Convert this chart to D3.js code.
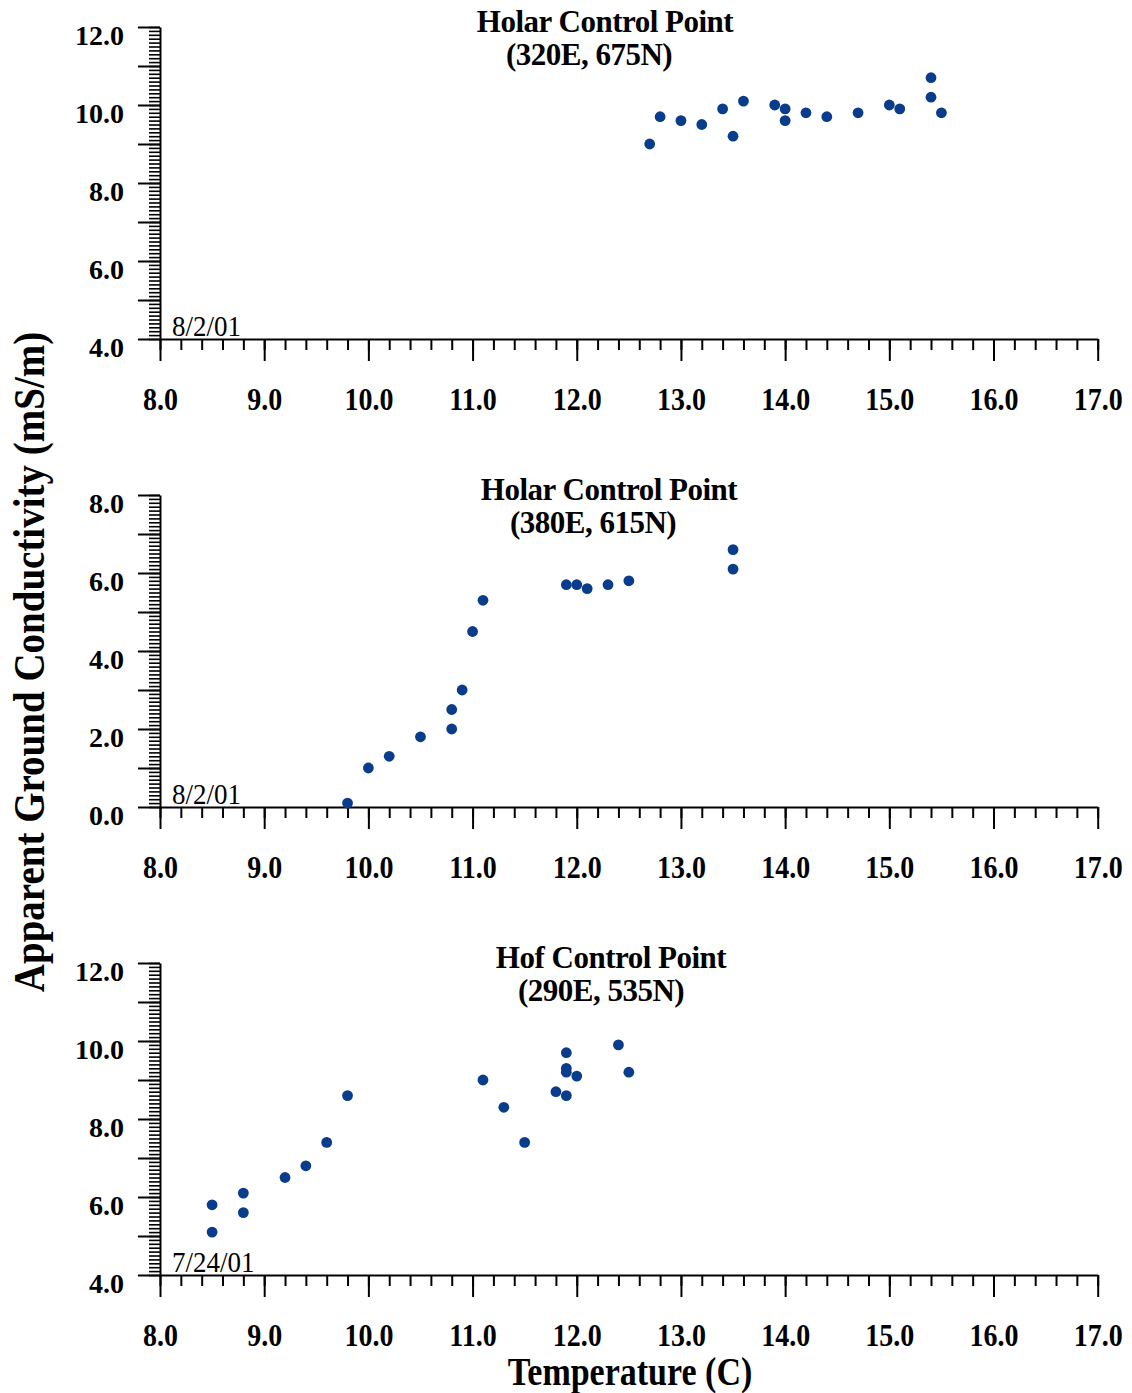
<!DOCTYPE html>
<html>
<head>
<meta charset="utf-8">
<script src="https://cdn.jsdelivr.net/npm/d3@7"></script>
<style>
  body { margin: 0; background: #fff; }
  svg text { font-family: "Liberation Serif", "Times New Roman", serif; fill: #000; }
</style>
</head>
<body>
<script>
// values
const titles = ["Holar Control Point", "Holar Control Point", "Hof Control Point"]
const subtitles = ["(320E, 675N)", "(380E, 615N)", "(290E, 535N)"]
const dates = ["8/2/01", "8/2/01", "7/24/01"]
const yDomains = [[4, 12], [0, 8], [4, 12]]
const xDomain = [8, 17]

const p1Temp = [12.7, 12.8, 13.0, 13.2, 13.4, 13.5, 13.6, 13.9, 14.0, 14.0, 14.2, 14.4, 14.7, 15.0, 15.1, 15.4, 15.4, 15.5]
const p1Cond = [9.0, 9.7, 9.6, 9.5, 9.9, 9.2, 10.1, 10.0, 9.9, 9.6, 9.8, 9.7, 9.8, 10.0, 9.9, 10.7, 10.2, 9.8]

const p2Temp = [9.8, 10.0, 10.2, 10.5, 10.8, 10.8, 10.9, 11.0, 11.1, 11.9, 12.0, 12.1, 12.3, 12.5, 13.5, 13.5]
const p2Cond = [0.1, 1.0, 1.3, 1.8, 2.5, 2.0, 3.0, 4.5, 5.3, 5.7, 5.7, 5.6, 5.7, 5.8, 6.6, 6.1]

const p3Temp = [8.5, 8.5, 8.8, 8.8, 9.2, 9.4, 9.6, 9.8, 11.1, 11.3, 11.5, 11.8, 11.9, 11.9, 11.9, 11.9, 12.0, 12.4, 12.5]
const p3Cond = [5.8, 5.1, 6.1, 5.6, 6.5, 6.8, 7.4, 8.6, 9.0, 8.3, 7.4, 8.7, 9.7, 9.3, 9.2, 8.6, 9.1, 9.9, 9.2]

const temps = [p1Temp, p2Temp, p3Temp]
const conds = [p1Cond, p2Cond, p3Cond]

// layout
const W = 1132, H = 1393
const left = 160, right = 1097.7
const panelTops = [27, 495, 963]
const panelH = 312
const titleX = [605, 609, 611]
const subX = [589, 593, 601]
const dotColor = "#0a3c8c"

const svg = d3.select("body").append("svg")
    .attr("width", W)
    .attr("height", H)

const x = d3.scaleLinear().domain(xDomain).range([left, right])
const fmt = d3.format(".1f")

function range(a, b, step) {
    // tick positions on a fixed step, rounded to avoid float drift
    let out = []
    let n = Math.round((b - a) / step)
    for (let i = 0; i <= n; i++) out.push(+(a + i * step).toFixed(3))
    return out
}

for (let p = 0; p < 3; p++) {
    let top = panelTops[p]
    let bottom = top + panelH
    let y = d3.scaleLinear().domain(yDomains[p]).range([bottom, top])
    let g = svg.append("g")

    // minor x ticks
    let xm = g.append("g")
        .attr("transform", "translate(0," + bottom + ")")
        .call(d3.axisBottom(x).tickValues(range(xDomain[0], xDomain[1], 0.2)).tickSize(11).tickSizeOuter(0).tickFormat(""))
        .call(s => s.select(".domain").remove())

    // major x ticks and labels
    let xa = g.append("g")
        .attr("transform", "translate(0," + bottom + ")")
        .call(d3.axisBottom(x).tickValues(range(xDomain[0], xDomain[1], 1)).tickSize(22).tickSizeOuter(0).tickFormat(fmt))
    xa.selectAll("text")
        .attr("y", 0).attr("dy", 0)
        .attr("transform", "translate(0,71) scale(1,1.12)")
        .style("font-size", "28px").style("font-weight", "bold")

    // minor y ticks
    let ym = g.append("g")
        .attr("transform", "translate(" + left + ",0)")
        .call(d3.axisLeft(y).tickValues(range(yDomains[p][0], yDomains[p][1], 0.1)).tickSize(11).tickSizeOuter(0).tickFormat(""))
        .call(s => s.select(".domain").remove())

    // major y ticks, label every 2
    let ya = g.append("g")
        .attr("transform", "translate(" + left + ",0)")
        .call(d3.axisLeft(y).tickValues(range(yDomains[p][0], yDomains[p][1], 1)).tickSize(22).tickSizeOuter(0)
            .tickFormat(v => (Math.round(v) % 2 === 0 ? fmt(v) : "")))
    ya.selectAll("text")
        .attr("x", -36).attr("y", 17).attr("dy", 0)
        .style("font-size", "28px").style("font-weight", "bold")

    g.selectAll(".domain, .tick line")
        .attr("stroke", "#000")
        .attr("stroke-width", 2)
    ym.selectAll(".tick line").attr("stroke-width", 1.6)

    // date tag
    g.append("text")
        .attr("transform", "translate(" + (left + 12) + "," + (bottom - 3) + ") scale(1,1.1)")
        .style("font-size", "27px")
        .text(dates[p])

    // title
    g.append("text")
        .attr("x", titleX[p]).attr("y", top + 5)
        .attr("text-anchor", "middle")
        .style("font-size", "31px").style("font-weight", "bold")
        .style("letter-spacing", "-0.5px")
        .text(titles[p])
    g.append("text")
        .attr("x", subX[p]).attr("y", top + 38)
        .attr("text-anchor", "middle")
        .style("font-size", "31px").style("font-weight", "bold")
        .style("letter-spacing", "-0.5px")
        .text(subtitles[p])

    // points
    g.selectAll("circle")
        .data(d3.zip(temps[p], conds[p]))
        .enter()
        .append("circle")
        .attr("cx", d => x(d[0]))
        .attr("cy", d => y(d[1]))
        .attr("r", 5.4)
        .attr("fill", dotColor)
}

// shared axis titles
svg.append("text")
    .attr("transform", "translate(44,662) rotate(-90) scale(1,1.15)")
    .attr("text-anchor", "middle")
    .style("font-size", "39px").style("font-weight", "bold")
    .text("Apparent Ground Conductivity (mS/m)")

svg.append("text")
    .attr("transform", "translate(630,1385) scale(1,1.2)")
    .attr("text-anchor", "middle")
    .style("font-size", "34px").style("font-weight", "bold")
    .text("Temperature (C)")
</script>
</body>
</html>
